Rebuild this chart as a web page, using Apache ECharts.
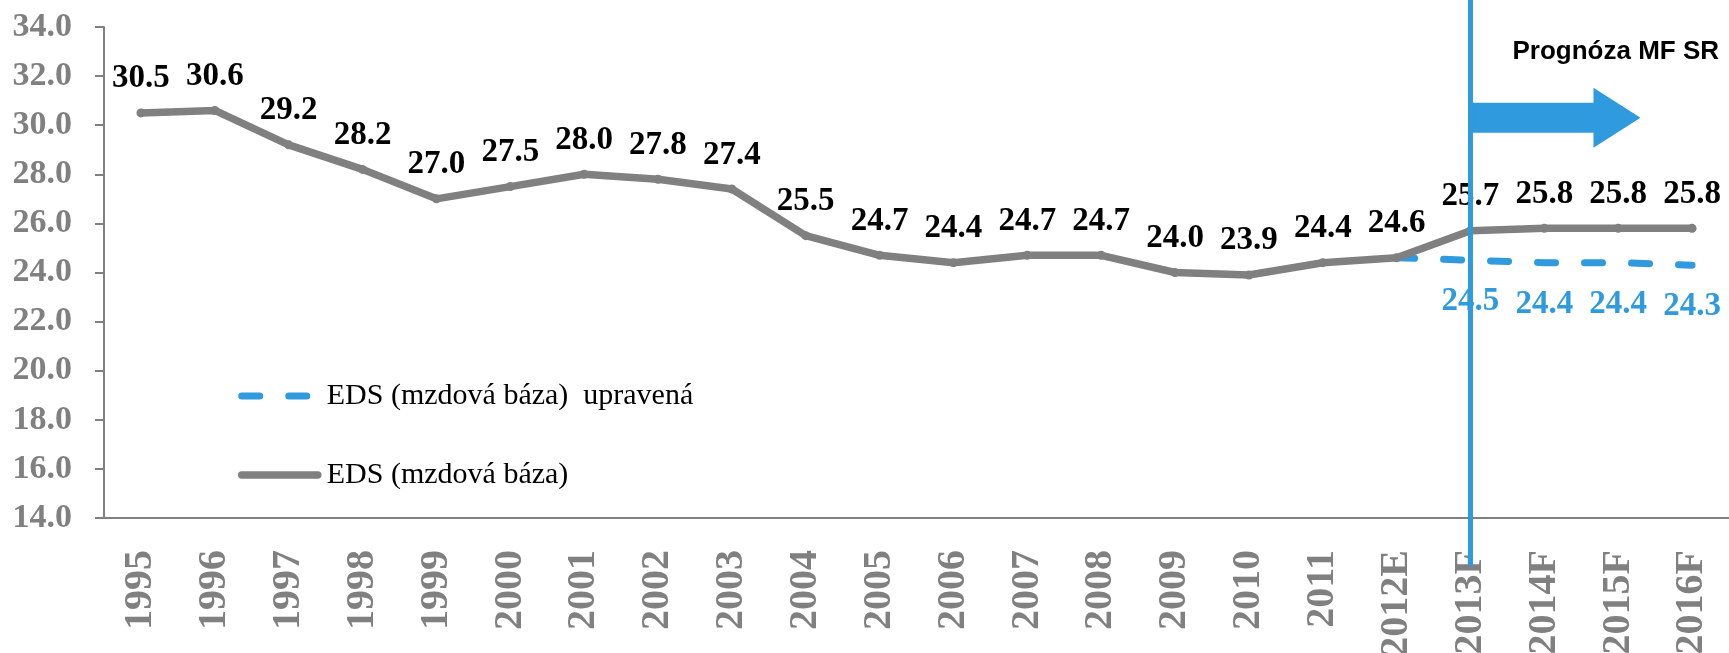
<!DOCTYPE html>
<html>
<head>
<meta charset="utf-8">
<script src="https://cdn.jsdelivr.net/npm/echarts@6/dist/echarts.min.js"></script>
<style>
  html, body { margin: 0; padding: 0; background: #fff; }
  #chart { width: 1729px; height: 653px; }
</style>
</head>
<body>
<div id="chart"></div>
<script>
const years = ['1995', '1996', '1997', '1998', '1999', '2000', '2001', '2002', '2003', '2004', '2005',
  '2006', '2007', '2008', '2009', '2010', '2011', '2012E', '2013F', '2014F', '2015F', '2016F'];
const edsValues = [30.5, 30.6, 29.2, 28.2, 27.0, 27.5, 28.0, 27.8, 27.4, 25.5, 24.7,
  24.4, 24.7, 24.7, 24.0, 23.9, 24.4, 24.6, 25.7, 25.8, 25.8, 25.8];
const adjustedValues = [null, null, null, null, null, null, null, null, null, null, null,
  null, null, null, null, null, null, 24.6, 24.5, 24.4, 24.4, 24.3];
const yMin = 14, yMax = 34, yStep = 2;
const forecastStart = '2013F';
const forecastTitle = 'Prognóza MF SR';

const GRAY = '#808080';
const BLUE = '#2f9ade';
const SERIF = '"Liberation Serif", "Times New Roman", serif';

const chart = echarts.init(document.getElementById('chart'));

const option = {
    animation: false,
    grid: { left: 104, right: 0, top: 27, bottom: 135, containLabel: false, outerBoundsMode: 'none' },
    legend: {
        orient: 'vertical',
        left: 233,
        top: 376,
        itemWidth: 76,
        itemHeight: 14,
        itemGap: 49,
        itemStyle: { opacity: 0 },
        lineStyle: { width: 'inherit' },
        textStyle: { fontFamily: SERIF, fontSize: 30, color: '#000', padding: [0, 0, 0, 4] },
        data: ['EDS (mzdová báza)  upravená', 'EDS (mzdová báza)']
    },
    xAxis: {
        type: 'category',
        data: years,
        axisLine: { lineStyle: { color: GRAY, width: 2 } },
        axisTick: { length: 12, lineStyle: { color: GRAY, width: 2 } },
        axisLabel: {
            rotate: 90,
            margin: 32,
            color: GRAY,
            fontFamily: SERIF,
            fontWeight: 'bold',
            fontSize: 40
        }
    },
    yAxis: {
        type: 'value',
        min: yMin,
        max: yMax,
        interval: yStep,
        axisLine: { show: true, lineStyle: { color: GRAY, width: 2 } },
        axisTick: { show: true, length: 9, lineStyle: { color: GRAY, width: 2 } },
        splitLine: { show: false },
        axisLabel: {
            margin: 32,
            color: GRAY,
            fontFamily: SERIF,
            fontWeight: 'bold',
            fontSize: 34,
            formatter: v => v.toFixed(1)
        }
    },
    series: [
        {
            name: 'EDS (mzdová báza)  upravená',
            type: 'line',
            data: adjustedValues.map((v, i) => i === 17 ? { value: v, label: { show: false } } : v),
            symbol: 'circle',
            symbolSize: 2,
            lineStyle: { color: BLUE, width: 7, type: [18, 29], cap: 'round' },
            itemStyle: { color: 'rgba(0,0,0,0)' },
            label: {
                show: true,
                position: 'bottom',
                distance: 24,
                color: BLUE,
                fontFamily: SERIF,
                fontWeight: 'bold',
                fontSize: 33,
                lineHeight: 33,
                formatter: p => p.value == null ? '' : p.value.toFixed(1)
            }
        },
        {
            name: 'EDS (mzdová báza)',
            type: 'line',
            data: edsValues,
            symbol: 'circle',
            symbolSize: 9,
            lineStyle: { color: GRAY, width: 7.5, cap: 'round' },
            itemStyle: { color: GRAY },
            label: {
                show: true,
                position: 'top',
                distance: 13,
                color: '#000',
                fontFamily: SERIF,
                fontWeight: 'bold',
                fontSize: 33,
                lineHeight: 33,
                formatter: p => p.value.toFixed(1)
            }
        }
    ]
};
chart.setOption(option);

// forecast marker: vertical line, arrow and title
const lineX = chart.convertToPixel({ xAxisIndex: 0 }, forecastStart);
const axisY = chart.convertToPixel({ yAxisIndex: 0 }, yMin);
const arrowY = chart.convertToPixel({ yAxisIndex: 0 }, 30.3);
chart.setOption({
    graphic: [
        {
            type: 'polygon',
            shape: {
                points: [
                    [lineX, arrowY - 15], [lineX + 123, arrowY - 15], [lineX + 123, arrowY - 30],
                    [lineX + 170, arrowY], [lineX + 123, arrowY + 30], [lineX + 123, arrowY + 15],
                    [lineX, arrowY + 15]
                ]
            },
            style: { fill: BLUE },
            z: 10
        },
        {
            type: 'line',
            shape: { x1: lineX, y1: 0, x2: lineX, y2: axisY + 48 },
            style: { stroke: BLUE, lineWidth: 5 },
            z: 10
        },
        {
            type: 'text',
            x: lineX + 42,
            y: 52,
            style: {
                text: forecastTitle,
                fill: '#000',
                fontFamily: '"Liberation Sans", Arial, sans-serif',
                fontWeight: 'bold',
                fontSize: 26,
                verticalAlign: 'middle'
            },
            z: 10
        }
    ]
});
</script>
</body>
</html>
